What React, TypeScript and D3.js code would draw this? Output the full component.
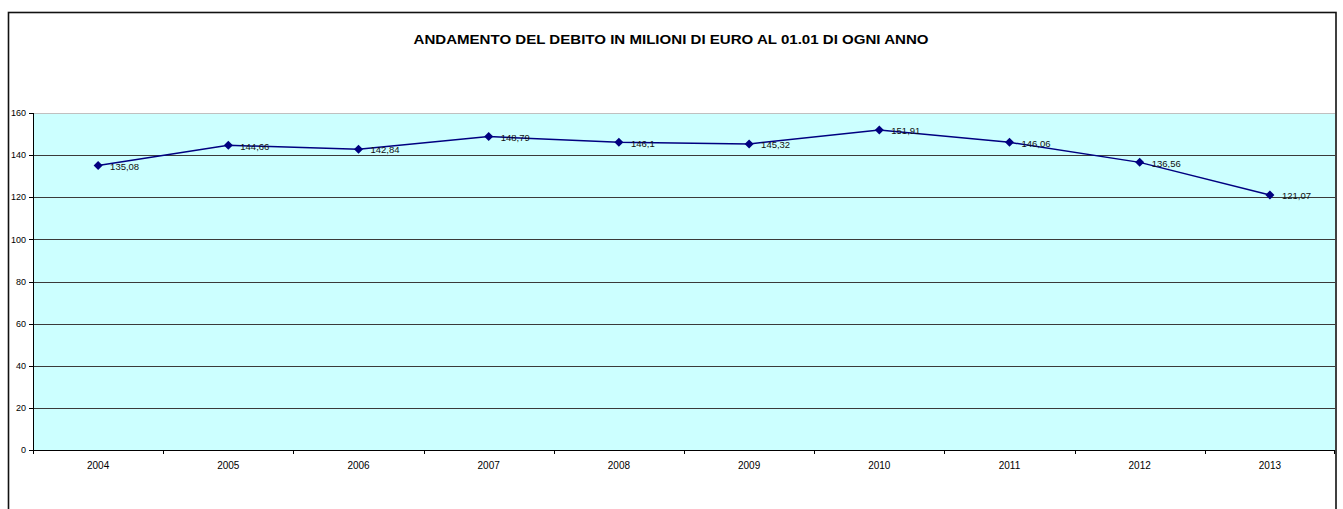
import * as React from 'react';
import * as d3 from 'd3';

const years = ['2004', '2005', '2006', '2007', '2008', '2009', '2010', '2011', '2012', '2013'];
const debito = [135.08, 144.66, 142.84, 148.79, 146.1, 145.32, 151.91, 146.06, 136.56, 121.07];
const yTicks = [0, 20, 40, 60, 80, 100, 120, 140, 160];

const title = 'ANDAMENTO DEL DEBITO IN MILIONI DI EURO AL 01.01 DI OGNI ANNO';

export default function App() {
  const width = 1343;
  const height = 509;
  const plot = {left: 33, right: 1335, top: 113, bottom: 450};

  const x = d3.scaleBand().domain(years).range([plot.left, plot.right]);
  const y = d3.scaleLinear().domain([0, 160]).range([plot.bottom, plot.top]);
  const cx = (d: string) => (x(d) as number) + x.bandwidth() / 2;

  const line = d3.line<number>()
    .x((_, i) => cx(years[i]))
    .y(d => y(d));

  const font = 'Arial, "Liberation Sans", sans-serif';
  const diamond = (px: number, py: number, r: number) =>
    `M${px},${py - r}L${px + r},${py}L${px},${py + r}L${px - r},${py}Z`;

  return (
    <svg width={width} height={height} style={{position: 'absolute', left: 0, top: 0}} fontFamily={font}>
      <rect x={0} y={0} width={width} height={height} fill="#fff" />
      {/* chart border */}
      <rect x={8.5} y={12.5} width={1327.5} height={520} fill="none" stroke="#111" strokeWidth={1.6} />

      <text x={671} y={44} textAnchor="middle" fontSize={12} fontWeight="bold" textLength={515} lengthAdjust="spacingAndGlyphs">
        {title}
      </text>

      {/* plot area */}
      <rect x={plot.left} y={plot.top} width={plot.right - plot.left} height={plot.bottom - plot.top} fill="#CCFFFF" />
      <line x1={plot.left} x2={plot.right} y1={plot.top + 0.5} y2={plot.top + 0.5} stroke="#c0c0c0" />

      {yTicks.map(t => (
        <g key={t}>
          {t > 0 && t < 160 && (
            <line x1={plot.left} x2={plot.right} y1={Math.round(y(t)) + 0.5} y2={Math.round(y(t)) + 0.5} stroke="#3a3a3a" />
          )}
          <line x1={plot.left - 4} x2={plot.left} y1={Math.round(y(t)) + 0.5} y2={Math.round(y(t)) + 0.5} stroke="#000" />
          <text x={26} y={y(t)} dy="0.35em" textAnchor="end" fontSize={9} fill="#000">{t}</text>
        </g>
      ))}

      {/* axes */}
      <line x1={plot.left + 0.5} x2={plot.left + 0.5} y1={plot.top} y2={plot.bottom} stroke="#000" />
      <line x1={plot.left} x2={plot.right} y1={plot.bottom + 0.5} y2={plot.bottom + 0.5} stroke="#000" />
      {years.map(yr => (
        <g key={yr}>
          <line x1={Math.round(x(yr) as number) + 0.5} x2={Math.round(x(yr) as number) + 0.5} y1={plot.bottom} y2={plot.bottom + 4} stroke="#000" />
          <text x={cx(yr)} y={469} textAnchor="middle" fontSize={10} fill="#000">{yr}</text>
        </g>
      ))}
      <line x1={plot.right - 0.5} x2={plot.right - 0.5} y1={plot.bottom} y2={plot.bottom + 4} stroke="#000" />

      <path d={line(debito) as string} fill="none" stroke="#000080" strokeWidth={1.5} />
      {debito.map((v, i) => (
        <g key={i}>
          <path d={diamond(cx(years[i]), y(v), 4.5)} fill="#000080" />
          <text x={cx(years[i]) + 12} y={y(v) + 1} dy="0.35em" fontSize={9.5} fill="#111">
            {String(v).replace('.', ',')}
          </text>
        </g>
      ))}
    </svg>
  );
}
